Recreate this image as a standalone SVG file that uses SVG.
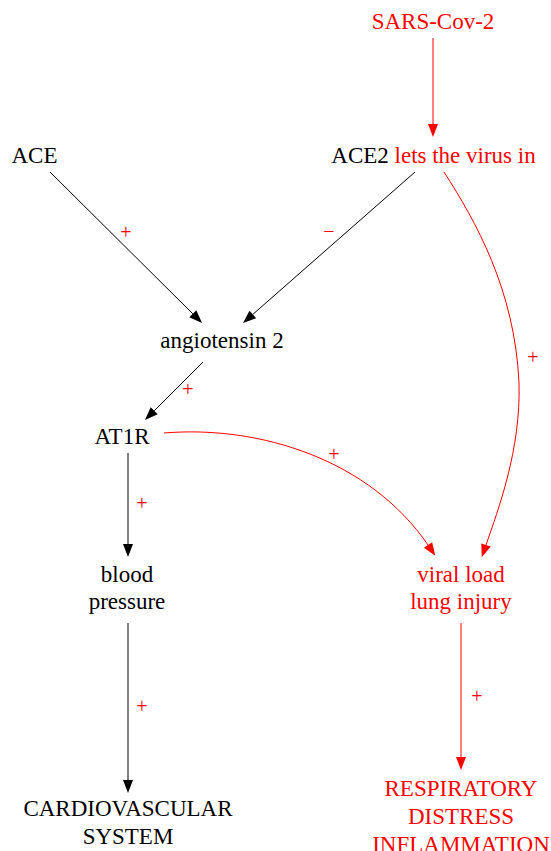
<svg xmlns="http://www.w3.org/2000/svg" width="551" height="851" viewBox="0 0 551 851">
<style>
text{font-family:"Liberation Serif","Times New Roman",serif;font-size:23px;text-anchor:middle}
.k{fill:#000}
.r{fill:#ff0000}
.lbl{font-size:20px;fill:#ff0000}
.ek{stroke:#000;stroke-width:1;fill:none;marker-end:url(#ak)}
.er{stroke:#ff0000;stroke-width:1;fill:none;marker-end:url(#ar)}
</style>
<defs>
<marker id="ak" markerUnits="userSpaceOnUse" markerWidth="14" markerHeight="11" refX="0" refY="5" orient="auto" overflow="visible">
<path d="M0,0 L13,5 L0,10 z" fill="#000"/>
</marker>
<marker id="ar" markerUnits="userSpaceOnUse" markerWidth="14" markerHeight="11" refX="0" refY="5" orient="auto" overflow="visible">
<path d="M0,0 L13,5 L0,10 z" fill="#ff0000"/>
</marker>
</defs>
<g id="connectors">
<path class="er" d="M433,38 L433,124"/>
<path class="ek" d="M50,172 L192.8,313.8"/>
<path class="ek" d="M415,172 L252.8,314.4"/>
<path class="ek" d="M203,362 L154.2,410.8"/>
<path class="ek" d="M128,453 L128,544"/>
<path class="ek" d="M128,623 L128,780"/>
<path class="er" d="M444,172 C475,220 515,290 519,383 C521,450 498,510 486,545"/>
<path class="er" d="M164,433 C260,425 370,460 428,545"/>
<path class="er" d="M461,623 L461,757"/>
<text class="lbl" x="126" y="239">+</text>
<text class="lbl" x="329" y="238">−</text>
<text class="lbl" x="188" y="396">+</text>
<text class="lbl" x="533" y="364">+</text>
<text class="lbl" x="334" y="461">+</text>
<text class="lbl" x="142" y="510">+</text>
<text class="lbl" x="142" y="713">+</text>
<text class="lbl" x="477" y="703">+</text>
</g>
<g id="sars"><text class="r" x="433" y="29">SARS-Cov-2</text></g>
<g id="ace"><text class="k" x="34.5" y="163">ACE</text></g>
<g id="ace2"><text x="433.5" y="163"><tspan class="k">ACE2 </tspan><tspan class="r">lets the virus in</tspan></text></g>
<g id="angiotensin"><text class="k" x="222" y="348">angiotensin 2</text></g>
<g id="at1r"><text class="k" x="122" y="444">AT1R</text></g>
<g id="bp"><text class="k" x="127" y="582">blood</text><text class="k" x="127" y="609">pressure</text></g>
<g id="viral"><text class="r" x="461" y="582">viral load</text><text class="r" x="461" y="609">lung injury</text></g>
<g id="cardio"><text class="k" x="128" y="816">CARDIOVASCULAR</text><text class="k" x="128" y="844">SYSTEM</text></g>
<g id="resp"><text class="r" x="461" y="796">RESPIRATORY</text><text class="r" x="461" y="824">DISTRESS</text><text class="r" x="461" y="852">INFLAMMATION</text></g>
</svg>
